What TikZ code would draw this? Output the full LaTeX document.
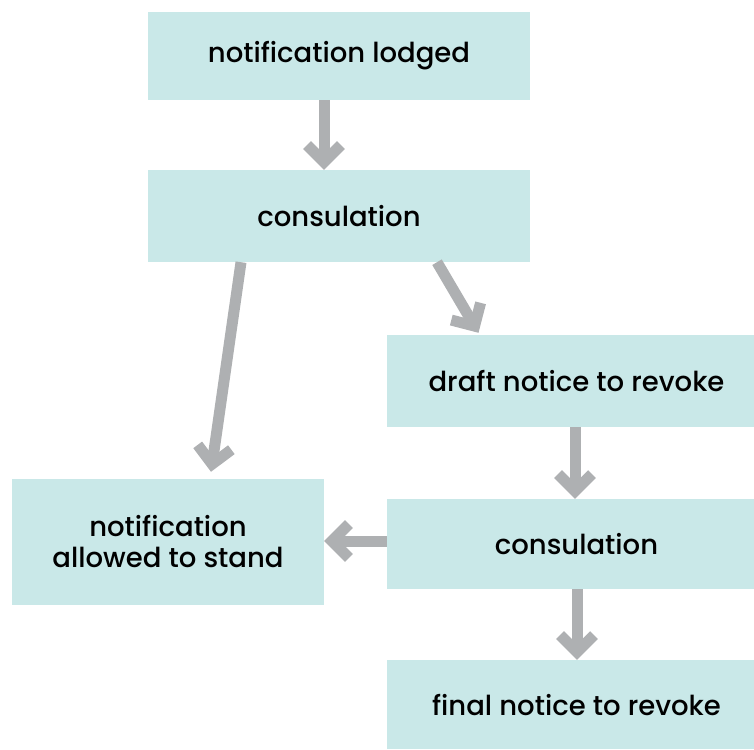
\documentclass[tikz,border=0pt]{standalone}
\usepackage{fontspec}
\setmainfont{Poppins}[UprightFont={* Medium}]
\usetikzlibrary{arrows.meta}

\definecolor{boxfill}{HTML}{C9E8E8}
\definecolor{arrgrey}{HTML}{AEB0B2}

\begin{document}
\begin{tikzpicture}[x=1pt, y=-1pt,
            box/.style={fill=boxfill, inner sep=0pt, align=center,
                        font=\fontsize{27.5}{31}\selectfont},
            flow/.style={draw=arrgrey, line width=11pt,
                         -{Straight Barb[length=17pt, width=34pt]}}]
        \useasboundingbox (0,0) rectangle (754,749);
        \node[box, minimum width=382pt, minimum height=88pt] (lodged) at (339,56) {notification lodged};
        \node[box, minimum width=382pt, minimum height=92pt] (consul) at (339,216) {consulation};
        \node[box, minimum width=379pt, minimum height=92pt] (draft) at (576.5,381) {draft notice to revoke};
        \node[box, minimum width=312pt, minimum height=126pt] (allowed) at (168,542) {notification\\allowed to stand};
        \node[box, minimum width=379pt, minimum height=90pt] (consulb) at (576.5,544) {consulation};
        \node[box, minimum width=379pt, minimum height=89pt] (final) at (576.5,704.5) {final notice to revoke};

        \draw[flow] ([xshift=-15pt]lodged.south) -- ([xshift=-15pt]consul.north);
        \draw[flow] ([xshift=-98pt]consul.south) -- ([xshift=43pt,yshift=7pt]allowed.north);
        \draw[flow] ([xshift=98pt]consul.south) -- ([xshift=-98pt,yshift=2pt]draft.north);
        \draw[flow] ([xshift=-1.5pt]draft.south) -- ([xshift=-1.5pt]consulb.north);
        \draw[flow] ([yshift=3pt]consulb.west) -- ([yshift=3pt]consulb.west -| allowed.east);
        \draw[flow] ([xshift=0.5pt]consulb.south) -- ([xshift=0.5pt]final.north);
\end{tikzpicture}
\end{document}
